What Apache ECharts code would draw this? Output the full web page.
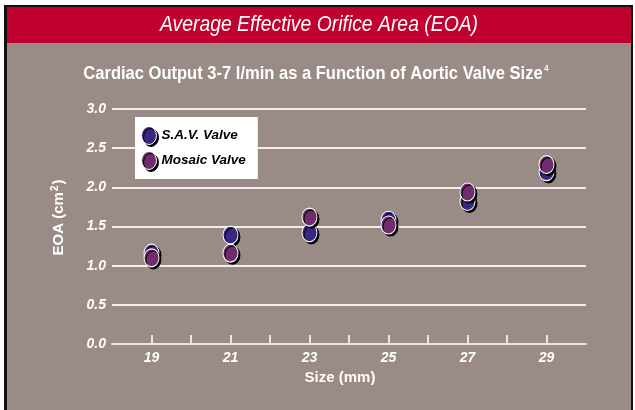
<!DOCTYPE html>
<html>
<head>
<meta charset="utf-8">
<script src="https://cdn.jsdelivr.net/npm/echarts@6/dist/echarts.min.js"></script>
<style>
html,body{margin:0;padding:0;background:#fff;}
#c{width:635px;height:410px;}
</style>
</head>
<body>
<div id="c"></div>
<script>
var sizes = [19, 21, 23, 25, 27, 29];
var savValues = [1.16, 1.39, 1.42, 1.58, 1.82, 2.20];
var mosaicValues = [1.10, 1.16, 1.62, 1.52, 1.94, 2.29];
var seriesNames = ['S.A.V. Valve', 'Mosaic Valve'];
var yTicks = [0.0, 0.5, 1.0, 1.5, 2.0, 2.5, 3.0];
var xLabels = [19, 21, 23, 25, 27, 29];
var xTicks = [19, 20, 21, 22, 23, 24, 25, 26, 27, 28, 29];

var FONT = "'Liberation Sans', Arial, sans-serif";
var SAV_COLOR = '#3b2585';
var MOS_COLOR = '#6f2d6d';
var ELLIPSE = 'path://M0,9 A7.5,9 0 1,1 15,9 A7.5,9 0 1,1 0,9 Z';

function pairs(xs, ys) { return xs.map(function (x, i) { return [x, ys[i]]; }); }

var markerStyle = function (c) {
  return {
    color: c, opacity: 1, borderColor: '#ffffff', borderWidth: 1,
    shadowColor: '#000000', shadowBlur: 0, shadowOffsetX: 2, shadowOffsetY: 2
  };
};

var chart = echarts.init(document.getElementById('c'), null, {renderer: 'canvas'});
chart.setOption({
  backgroundColor: '#9b8b87',
  animation: false,
  graphic: [
    {type: 'rect', shape: {x: 0, y: 0, width: 635, height: 5}, style: {fill: '#ffffff'}, z: 10},
    {type: 'rect', shape: {x: 0, y: 0, width: 4, height: 410}, style: {fill: '#ffffff'}, z: 10},
    {type: 'rect', shape: {x: 4, y: 5, width: 629, height: 2}, style: {fill: '#111111'}, z: 10},
    {type: 'rect', shape: {x: 4, y: 5, width: 3, height: 405}, style: {fill: '#111111'}, z: 10},
    {type: 'rect', shape: {x: 631, y: 5, width: 2, height: 405}, style: {fill: '#111111'}, z: 10},
    {type: 'rect', shape: {x: 633, y: 0, width: 2, height: 410}, style: {fill: '#ffffff'}, z: 10},
    {type: 'rect', shape: {x: 7, y: 7, width: 624, height: 36}, style: {fill: '#c0002e'}, z: 10},
    {type: 'text', x: 319, y: 25, scaleX: 0.88, z: 11, style: {
      text: 'Average Effective Orifice Area (EOA)', fill: '#ffffff',
      font: "italic 22px " + FONT, textAlign: 'center', textVerticalAlign: 'middle'}},
    {type: 'text', x: 316, y: 74, scaleX: 0.87, z: 11, style: {
      text: '{m|Cardiac Output 3-7 l/min as a Function of Aortic Valve Size}{s|4}',
      fill: '#ffffff', textAlign: 'center', textVerticalAlign: 'middle',
      rich: {
        m: {fontFamily: FONT, fontSize: 19, fontWeight: 'bold', color: '#ffffff'},
        s: {fontFamily: FONT, fontSize: 9, fontWeight: 'bold', color: '#ffffff', verticalAlign: 'top', padding: [0, 0, 10, 2]}
      }}}
  ],
  grid: {left: 112, right: 49, top: 109, bottom: 66},
  legend: {
    orient: 'vertical', left: 135, top: 117,
    backgroundColor: '#ffffff',
    padding: [9, 12, 9, 6],
    itemWidth: 15, itemHeight: 18, itemGap: 6,
    data: seriesNames.map(function (n) { return {name: n, icon: ELLIPSE}; }),
    itemStyle: {borderColor: '#ffffff', borderWidth: 1, shadowColor: '#000000', shadowBlur: 0, shadowOffsetX: 2, shadowOffsetY: 2},
    textStyle: {fontFamily: FONT, fontSize: 13.5, fontWeight: 'bold', fontStyle: 'italic', color: '#000000'}
  },
  xAxis: {
    type: 'value', min: 18, max: 30, interval: 1,
    name: 'Size (mm)', nameLocation: 'middle', nameGap: 26,
    nameTextStyle: {fontFamily: FONT, fontSize: 15, fontWeight: 'bold', color: '#ffffff', padding: [0, 18, 0, 0]},
    axisLine: {show: true, lineStyle: {color: '#ece4e2', width: 2}},
    axisTick: {show: true, inside: true, length: 9, customValues: xTicks, lineStyle: {color: '#ece4e2', width: 2}},
    splitLine: {show: false},
    axisLabel: {
      margin: 7, color: '#ffffff', fontFamily: FONT, fontSize: 14, fontWeight: 'bold', fontStyle: 'italic',
      customValues: xLabels,
      formatter: function (v) { return String(v); }
    }
  },
  yAxis: {
    type: 'value', min: 0, max: 3, interval: 0.5,
    name: '{n|EOA (cm}{s|2}{n|)}', nameLocation: 'middle', nameGap: 44,
    nameTextStyle: {
      color: '#ffffff', padding: [0, 0, 0, 18],
      rich: {
        n: {fontFamily: FONT, fontSize: 15, fontWeight: 'bold', color: '#ffffff'},
        s: {fontFamily: FONT, fontSize: 10, fontWeight: 'bold', color: '#ffffff', verticalAlign: 'top', padding: [0, 1, 8, 1]}
      }
    },
    axisLine: {show: false},
    axisTick: {show: false},
    splitLine: {show: true, lineStyle: {color: '#f4eeec', width: 2}},
    axisLabel: {
      margin: 6, color: '#ffffff', fontFamily: FONT, fontSize: 14, fontWeight: 'bold', fontStyle: 'italic',
      formatter: function (v) { return yTicks.indexOf(v) >= 0 ? v.toFixed(1) : ''; }
    }
  },
  series: [
    {name: seriesNames[0], type: 'scatter', symbol: 'circle', symbolSize: [15, 18],
     data: pairs(sizes, savValues), itemStyle: markerStyle(SAV_COLOR), z: 3},
    {name: seriesNames[1], type: 'scatter', symbol: 'circle', symbolSize: [15, 18],
     data: pairs(sizes, mosaicValues), itemStyle: markerStyle(MOS_COLOR), z: 4}
  ]
});
</script>
</body>
</html>
